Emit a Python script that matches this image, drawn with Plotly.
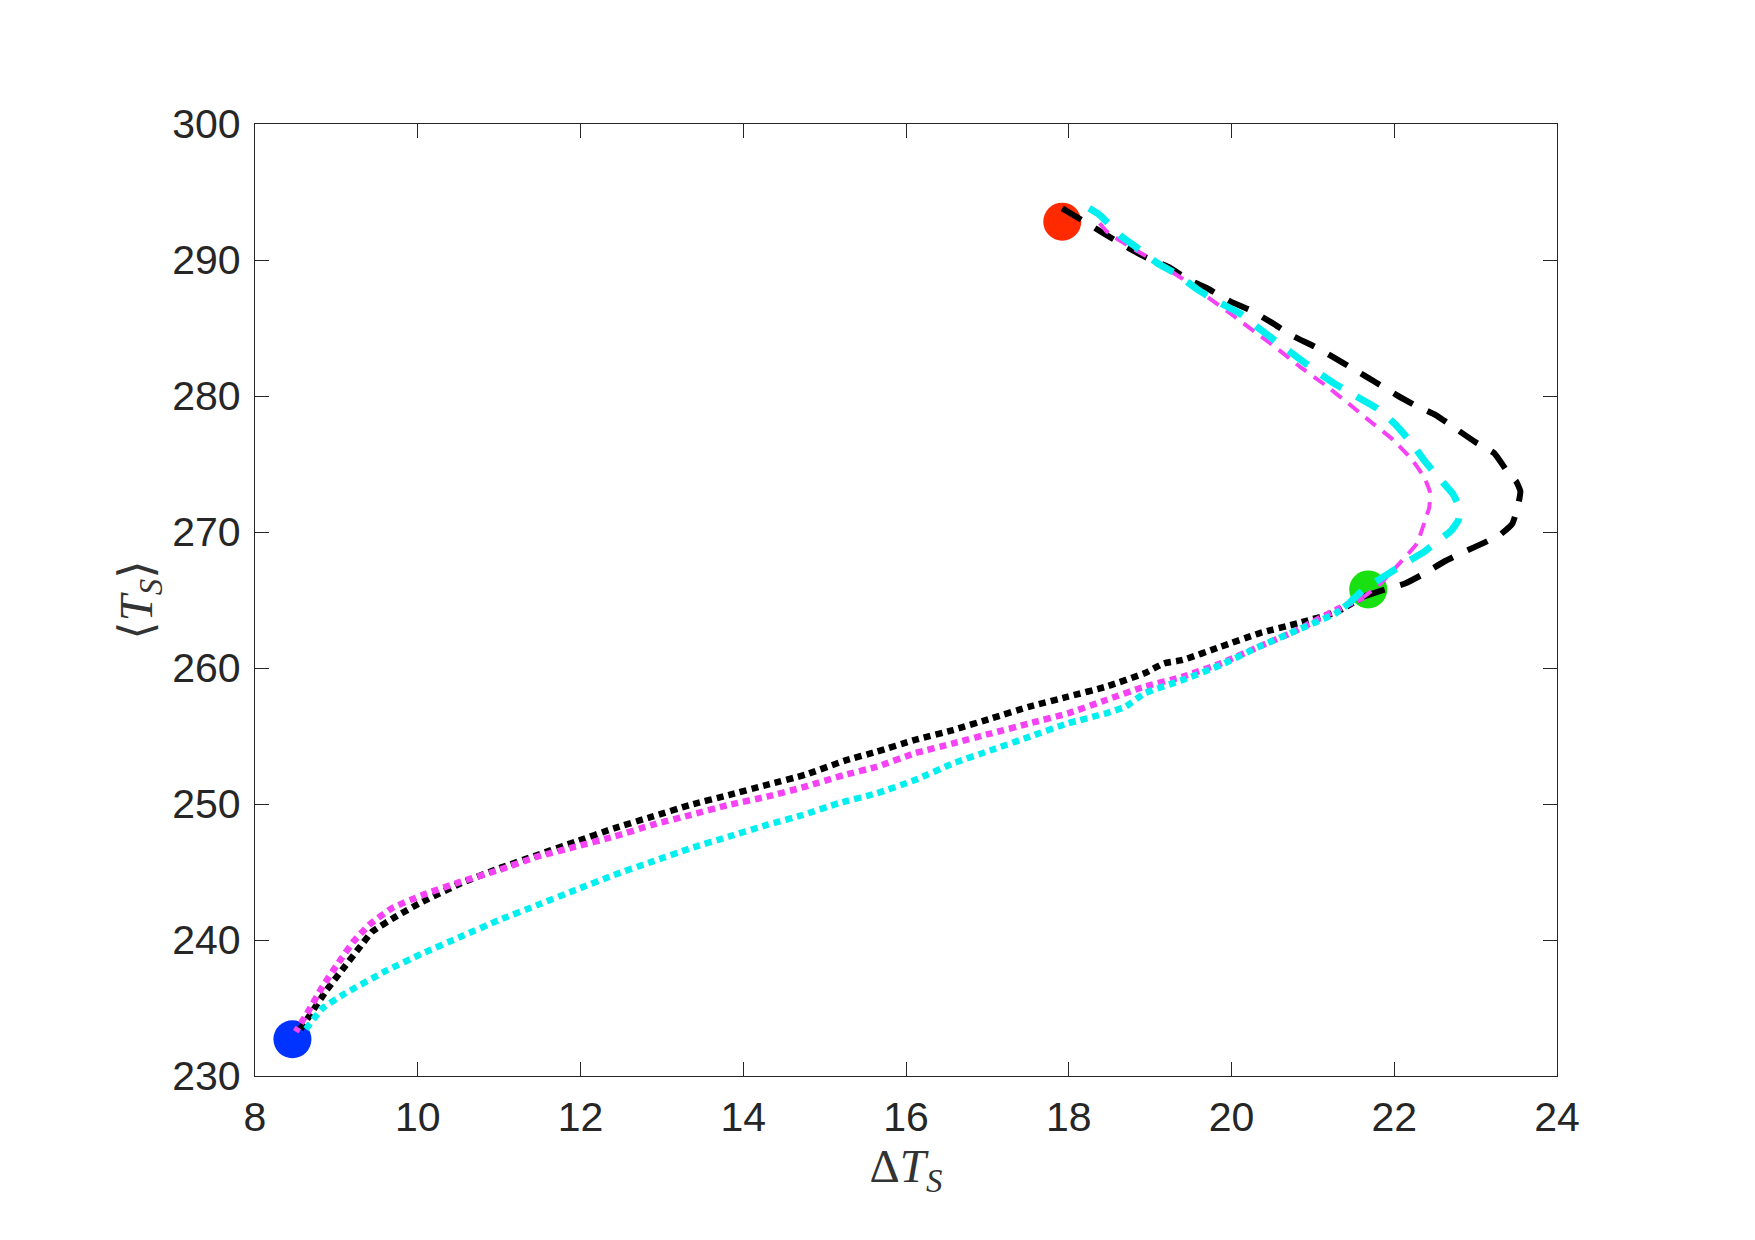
import plotly.graph_objects as go

# ---- data ----
# dashed branch (from red point down to green point)
black_dash_x = [17.92, 18.16, 18.43, 18.67, 18.93, 19.22, 19.48, 19.70, 19.99, 20.23, 20.51, 20.73,
                21.02, 21.24, 21.52, 21.76, 22.03, 22.25, 22.51, 22.75, 22.99, 23.23, 23.39, 23.50, 23.55,
                23.52, 23.45, 23.30, 23.10, 22.90, 22.62, 22.40, 22.14, 21.87, 21.62]
black_dash_y = [293.80, 292.94, 291.96, 291.10, 290.25, 289.51, 288.53, 287.92, 286.94, 286.32, 285.34, 284.49,
                283.63, 282.89, 281.91, 281.05, 280.07, 279.34, 278.60, 277.62, 276.64, 275.79, 274.44, 273.70, 273.00,
                271.90, 270.60, 269.80, 269.20, 268.65, 267.85, 267.05, 266.23, 265.74, 265.25]

cyan_dash_x = [18.25, 18.38, 18.65, 18.82, 19.09, 19.31, 19.59, 19.79, 20.10, 20.31, 20.58, 20.80,
               21.02, 21.26, 21.54, 21.79, 22.02, 22.20, 22.38, 22.56, 22.72, 22.80, 22.79, 22.70, 22.55, 22.38,
               22.13, 21.87, 21.62, 21.45]
cyan_dash_y = [293.80, 293.31, 291.72, 290.98, 289.76, 289.02, 287.80, 287.06, 286.08, 285.10, 283.87, 282.89,
               281.91, 280.93, 279.95, 279.09, 277.87, 276.64, 275.17, 273.90, 272.80, 271.80, 270.90, 270.10, 269.40, 268.60,
               267.70, 266.72, 265.74, 264.80]

magenta_dash_x = [18.38, 18.47, 18.78, 19.04, 19.39, 19.70, 20.01, 20.31, 20.53, 20.84, 21.15, 21.41,
                  21.71, 21.99, 22.22, 22.37, 22.44, 22.43, 22.38, 22.28, 22.05, 21.83, 21.62]
magenta_dash_y = [292.70, 292.08, 290.86, 290.00, 288.65, 287.30, 285.96, 284.61, 283.63, 282.16, 280.81, 279.58,
                  278.11, 276.76, 275.30, 274.00, 272.90, 271.80, 270.88, 269.17, 267.60, 266.20, 265.20]

# dotted branch (from green point down to blue point)
black_dot_x = [21.62, 21.28, 20.81, 20.34, 19.87, 19.40, 19.17, 18.93, 18.46, 17.99, 17.52, 17.05,
               16.58, 16.11, 15.64, 15.24, 14.76, 14.29, 13.82, 13.35, 12.88, 12.41, 11.94, 11.47,
               11.00, 10.53, 10.06, 9.73, 9.44, 9.26, 9.07, 8.88, 8.69, 8.55]
black_dot_y = [265.25, 264.10, 263.28, 262.55, 261.57, 260.59, 260.34, 259.61, 258.63, 257.89, 257.16, 256.30,
               255.44, 254.71, 253.85, 253.17, 252.15, 251.40, 250.66, 249.93, 249.07, 248.21, 247.23, 246.25,
               245.27, 244.17, 242.82, 241.72, 240.61, 239.26, 237.79, 236.32, 234.61, 233.38]

magenta_dot_x = [21.62, 21.28, 20.81, 20.34, 19.87, 19.40, 18.93, 18.46, 17.99, 17.52, 17.05, 16.58,
                 16.11, 15.64, 15.24, 14.76, 14.29, 13.82, 13.35, 12.88, 12.41, 11.94, 11.47, 11.00,
                 10.53, 10.06, 9.68, 9.40, 9.21, 9.02, 8.83, 8.64, 8.50]
magenta_dot_y = [265.20, 264.26, 262.79, 261.57, 260.34, 259.36, 258.63, 257.65, 256.67, 255.93, 255.20, 254.46,
                 253.73, 252.74, 252.13, 251.27, 250.54, 249.93, 249.19, 248.46, 247.60, 246.86, 246.13, 245.15,
                 244.29, 243.31, 242.33, 241.10, 239.88, 238.28, 236.57, 234.61, 233.26]

cyan_dot_x = [21.45, 21.28, 20.81, 20.34, 19.87, 19.40, 18.93, 18.70, 18.46, 17.99, 17.52, 17.05,
              16.58, 16.11, 15.64, 15.17, 14.73, 14.29, 13.82, 13.35, 12.88, 12.41, 11.94, 11.47,
              11.00, 10.53, 10.06, 9.59, 9.11, 8.83, 8.60]
cyan_dot_y = [264.80, 264.02, 262.79, 261.57, 260.22, 259.12, 258.14, 257.16, 256.67, 255.93, 254.95, 253.97,
              252.99, 251.76, 250.79, 250.05, 249.19, 248.46, 247.60, 246.74, 245.76, 244.78, 243.68, 242.57,
              241.47, 240.25, 239.02, 237.67, 236.08, 234.98, 233.26]

# state markers
point_x = [17.92, 21.68, 8.46]
point_y = [292.82, 265.78, 232.70]
point_colors = ["#FF2A00", "#19E010", "#0033FF"]

x_ticks = [8, 10, 12, 14, 16, 18, 20, 22, 24]
y_ticks = [230, 240, 250, 260, 270, 280, 290, 300]

BLACK = "#000000"
CYAN = "#00F0F0"
MAGENTA = "#F542F5"

fig = go.Figure()

# markers first (lines are drawn on top of them)
fig.add_trace(go.Scatter(x=point_x, y=point_y, mode="markers",
                         marker=dict(size=38, color=point_colors, line=dict(width=0)),
                         showlegend=False, hoverinfo="skip"))

def add_line(x, y, color, width, dash):
    fig.add_trace(go.Scatter(x=x, y=y, mode="lines",
                             line=dict(color=color, width=width, dash=dash, shape="spline", smoothing=0.4),
                             showlegend=False, hoverinfo="skip"))

add_line(black_dash_x, black_dash_y, BLACK, 6, "22px,16px")
add_line(black_dot_x, black_dot_y, BLACK, 6.5, "7px,5px")
add_line(magenta_dot_x, magenta_dot_y, MAGENTA, 6.5, "7px,5px")
add_line(magenta_dash_x, magenta_dash_y, MAGENTA, 4, "13px,9px")
add_line(cyan_dot_x, cyan_dot_y, CYAN, 6.5, "7px,5px")
add_line(cyan_dash_x, cyan_dash_y, CYAN, 7, "24px,17px")

axis_common = dict(
    showline=True, linecolor="#262626", linewidth=1.3, mirror="ticks",
    ticks="inside", ticklen=14, tickwidth=1.3, tickcolor="#262626",
    showgrid=False, zeroline=False,
    tickfont=dict(family="Liberation Sans, Arial, Helvetica, sans-serif", size=41, color="#262626"),
)

fig.update_layout(
    width=1755, height=1240,
    margin=dict(l=255, r=198, t=124, b=164, autoexpand=False),
    paper_bgcolor="white", plot_bgcolor="white",
    xaxis=dict(range=[8, 24], tickvals=x_ticks, ticktext=[str(v) for v in x_ticks],
               ticklabelstandoff=5,
               title=dict(text="Δ<i>T</i><sub><i>S</i></sub>", standoff=8,
                          font=dict(family="Liberation Serif, Times New Roman, serif", size=47, color="#333333")),
               **axis_common),
    yaxis=dict(range=[230, 300], tickvals=y_ticks, ticktext=[str(v) for v in y_ticks],
               ticklabelstandoff=5,
               title=dict(text="⟨<i>T</i><sub><i>S</i></sub>⟩", standoff=4,
                          font=dict(family="Liberation Serif, DejaVu Serif, serif", size=47, color="#333333")),
               **axis_common),
)

fig.write_html("out.html")
